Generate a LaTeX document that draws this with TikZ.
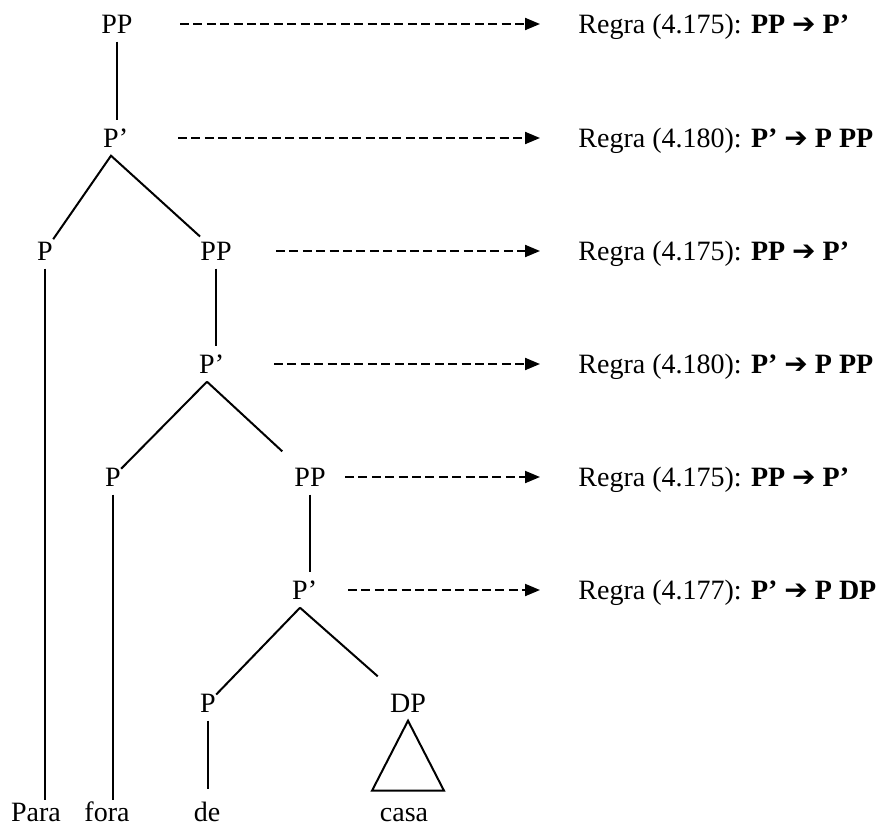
\documentclass[tikz,border=0pt]{standalone}
\usepackage{fontspec}
\setmainfont{Liberation Serif}
\newfontfamily\arrowfont{DejaVu Sans}
\usetikzlibrary{arrows.meta}
\newcommand{\rulearrow}{{\arrowfont\bfseries ➔}}

\begin{document}
\begin{tikzpicture}[
  x=0.5pt, y=-0.5pt,
  font=\fontsize{14}{17}\selectfont,
  cat/.style={inner xsep=0pt, inner ysep=4pt, text height=9.3pt, text depth=0pt},
  word/.style={inner xsep=0pt, inner ysep=1pt, text height=9.3pt, text depth=0pt},
  regra/.style={anchor=west, inner xsep=19pt, inner ysep=0pt,
                text height=9.3pt, text depth=0pt},
  edge/.style={line width=1pt},
  arr/.style={-{Triangle[length=7.5pt,width=6pt]}, line width=1pt,
              dash pattern=on 4.5pt off 2.2pt}
]
\useasboundingbox (0,0) rectangle (881,825);

% categories
\node[cat] (pp1) at (117,24)  {PP};
\node[cat] (pb1) at (111,138) {P\rlap{’}};
\node[cat] (p1)  at (45,251)  {P};
\node[cat] (pp2) at (216,251) {PP};
\node[cat] (pb2) at (207,364) {P\rlap{’}};
\node[cat] (p2)  at (113,477) {P};
\node[cat] (pp3) at (310,477) {PP};
\node[cat] (pb3) at (300,590) {P\rlap{’}};
\node[cat] (p3)  at (208,703) {P};
\node[cat] (dp)  at (408,703) {DP};

% words
\node[word] (para) at (36,812)  {Para};
\node[word] (fora) at (107,812) {fora};
\node[word] (de)   at (207,812) {de};
\node[word] (casa) at (404,812) {casa};

% branches
\draw[edge] (pp1.south) -- (pp1.south |- pb1.north);
\draw[edge] (p1) -- (pb1.south) -- (pp2);
\draw[edge] (pp2.south) -- (pp2.south |- pb2.north);
\draw[edge] (p2) -- (pb2.south);
\draw[edge, shorten >=8pt] (pb2.south) -- (pp3);
\draw[edge] (pp3.south) -- (pp3.south |- pb3.north);
\draw[edge] (p3) -- (pb3.south);
\draw[edge, shorten >=8pt] (pb3.south) -- (dp);
\draw[edge] (p1.south) -- (p1.south |- para.north);
\draw[edge] (p2.south) -- (p2.south |- fora.north);
\draw[edge, shorten >=5.5pt] (p3.south) -- (p3.south |- de.north);
\draw[edge] (dp.south) -- ++(-36,70) -- ++(72,0) -- cycle;

% rules
\node[regra] (r1) at (540,24)  {Regra (4.175): \textbf{PP \rulearrow{} P’}};
\node[regra] (r2) at (540,138) {Regra (4.180): \textbf{P’ \rulearrow{} P PP}};
\node[regra] (r3) at (540,251) {Regra (4.175): \textbf{PP \rulearrow{} P’}};
\node[regra] (r4) at (540,364) {Regra (4.180): \textbf{P’ \rulearrow{} P PP}};
\node[regra] (r5) at (540,477) {Regra (4.175): \textbf{PP \rulearrow{} P’}};
\node[regra] (r6) at (540,590) {Regra (4.177): \textbf{P’ \rulearrow{} P DP}};

\coordinate (s1) at (180,24);
\coordinate (s2) at (178,138);
\coordinate (s3) at (276,251);
\coordinate (s4) at (274,364);
\coordinate (s5) at (345,477);
\coordinate (s6) at (348,590);
\foreach \i in {1,...,6}
  \draw[arr] (s\i) -- (r\i.west);

\end{tikzpicture}
\end{document}
